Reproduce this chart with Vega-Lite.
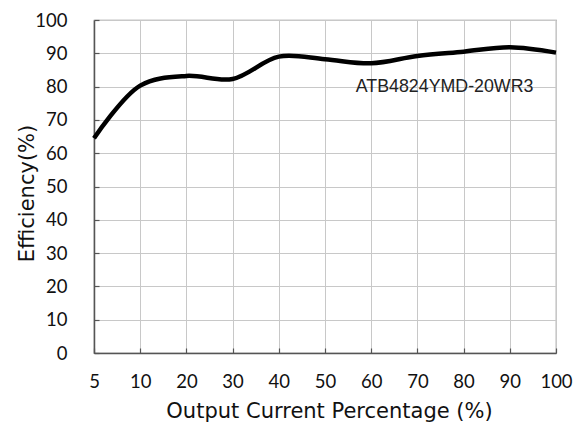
{
  "$schema": "https://vega.github.io/schema/vega-lite/v6.json",
  "autosize": "none",
  "width": 462,
  "height": 333,
  "padding": {"left": 94, "top": 20, "right": 30, "bottom": 72},
  "background": "white",
  "config": {
    "view": {"stroke": "#8c8c8c", "strokeWidth": 1.2},
    "font": "Lato"
  },
  "data": {
    "values": [
      {"current": "5", "efficiency": 64.5},
      {"current": "10", "efficiency": 80.3},
      {"current": "20", "efficiency": 83.2},
      {"current": "30", "efficiency": 82.3},
      {"current": "40", "efficiency": 89.0},
      {"current": "50", "efficiency": 88.2},
      {"current": "60", "efficiency": 87.0},
      {"current": "70", "efficiency": 89.2},
      {"current": "80", "efficiency": 90.5},
      {"current": "90", "efficiency": 91.8},
      {"current": "100", "efficiency": 90.2}
    ]
  },
  "encoding": {
    "x": {
      "field": "current", "type": "ordinal", "sort": null,
      "scale": {"type": "point", "padding": 0},
      "axis": {
        "title": "Output Current Percentage (%)",
        "titleFont": "DejaVu Sans", "titleFontSize": 21, "titleFontWeight": "normal", "titleColor": "#111",
        "titleX": 235, "titleY": 58, "titleAlign": "center", "titleBaseline": "middle",
        "labelAngle": 0, "labelFont": "Lato", "labelFontSize": 18.5, "labelColor": "#111",
        "labelPadding": 24, "labelOverlap": false,
        "grid": true, "gridColor": "#c8c8c8", "gridWidth": 1,
        "domainColor": "#555555", "domainWidth": 1.5,
        "ticks": true, "tickSize": -5, "tickColor": "#555555", "tickWidth": 1.2
      }
    },
    "y": {
      "field": "efficiency", "type": "quantitative",
      "scale": {"domain": [0, 100], "nice": false, "zero": true},
      "axis": {
        "title": "Efficiency(%)",
        "titleFont": "DejaVu Sans", "titleFontSize": 21, "titleFontWeight": "normal", "titleColor": "#111",
        "titleX": -67, "titleY": 173, "titleAngle": -90, "titleAlign": "center", "titleBaseline": "middle",
        "tickCount": 11, "tickMinStep": 10,
        "labelFont": "Lato", "labelFontSize": 18.5, "labelColor": "#111",
        "labelPadding": 32, "labelOverlap": false, "labelSeparation": 0,
        "grid": true, "gridColor": "#c8c8c8", "gridWidth": 1,
        "domainColor": "#555555", "domainWidth": 1.5,
        "ticks": true, "tickSize": -5, "tickColor": "#555555", "tickWidth": 1.2
      }
    }
  },
  "layer": [
    {
      "mark": {"type": "line", "color": "#000000", "strokeWidth": 4.5, "interpolate": "catmull-rom"}
    },
    {
      "data": {"values": [{"current": "80", "efficiency": 80, "label": "ATB4824YMD-20WR3"}]},
      "mark": {"type": "text", "font": "Liberation Sans", "fontSize": 17.8, "color": "#222222", "align": "center", "baseline": "middle", "dx": -19},
      "encoding": {
        "text": {"field": "label"}
      }
    }
  ]
}
